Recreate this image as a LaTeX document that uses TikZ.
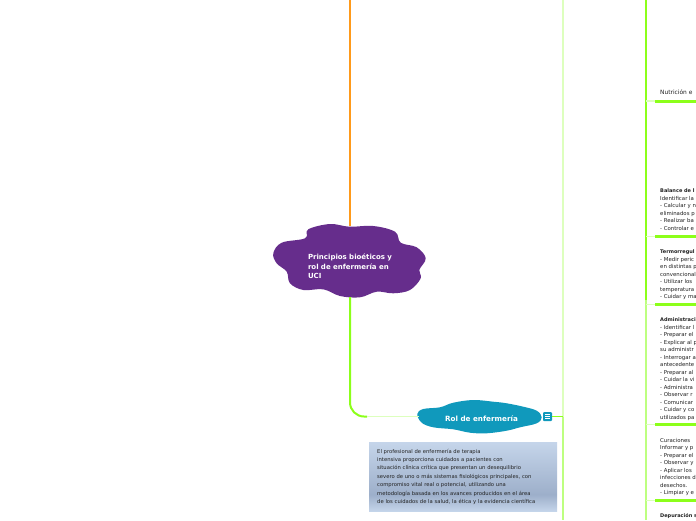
\documentclass[tikz,border=0pt]{standalone}
\usepackage{fontspec}
\setmainfont{DejaVu Sans}
\usetikzlibrary{calc}
\definecolor{morado}{HTML}{662D8C}
\definecolor{azul}{HTML}{1099BC}
\definecolor{naranja}{HTML}{FF9A1A}
\definecolor{verde}{HTML}{8CFF1A}
\definecolor{verdemedio}{HTML}{BDFF80}
\definecolor{verdeclaro}{HTML}{DDFFBE}
\definecolor{texto}{HTML}{222222}
\definecolor{notaclaro}{HTML}{C5D5EA}
\definecolor{notaoscuro}{HTML}{9DAFCA}
\pgfdeclareverticalshading{notafondo}{100bp}{color(0bp)=(notaclaro); color(25bp)=(notaclaro); color(37bp)=(notaoscuro); color(75bp)=(notaclaro); color(100bp)=(notaclaro)}
\newcommand{\titulo}[1]{{\bfseries\fontsize{5}{7.5}\selectfont #1}}
\tikzset{
  rama/.style={line width=3pt,verde},
  enlace/.style={line width=1.2pt,verdeclaro},
  tema/.style={anchor=north west,inner sep=0pt,align=left,text=texto,
    font=\fontsize{5.4}{7.5}\selectfont},
  nube/.style={inner sep=0pt,text=white,font=\bfseries\fontsize{7}{9.6}\selectfont},
}
\begin{document}
\begin{tikzpicture}[x=1pt,y=-1pt]
    \useasboundingbox (0,0) rectangle (696,520);
    \clip (0,0) rectangle (696,520);
    \fill[white] (0,0) rectangle (696,520);
    \coordinate (tronco) at (350,0);
    \coordinate (eje1) at (563,0);
    \coordinate (eje2) at (646,0);
    % nubes
    \fill[morado] plot[smooth cycle,tension=0.6] coordinates {(305,238.3) (308.3,229.3) (330,224) (349.3,226.7) (373.3,226)
      (395,231.7) (400.7,242.7) (416.7,247.3) (425.7,258.3) (419.3,270) (420.7,278.3) (410,290) (393.3,293.3)
      (376.7,291.7) (360,297.3) (340,296) (323.3,289.3) (303.3,290) (290,283.3) (286.7,271.7) (276.7,263.3)
      (273.3,253.3) (281.7,242.7)};
    \fill[azul] plot[smooth cycle,tension=0.6] coordinates {(417.3,414) (423.3,409) (440,407.3) (453.3,402.7) (473.3,400)
      (493.3,401.7) (506.7,403.3) (523.3,406.7) (536.7,410.7) (541.7,417.3) (536.7,423.3) (520,427.3) (506.7,430.7)
      (486.7,433.3) (470,432.7) (453.3,429.3) (433.3,427.3) (421.7,422.7)};
    \node[nube,minimum width=153pt,minimum height=71pt] (principios) at (350,261.5) {};
    \node[nube,text width=92pt,align=left] (principiostexto) at (354,266.5)
      {Principios bioéticos y\\rol de enfermería en\\UCI};
    \node[nube,font=\bfseries\fontsize{7.2}{8}\selectfont,minimum width=125pt,minimum height=33pt] (rol) at (481.5,418.5)
      {Rol de enfermería};
    \node[fill=azul,rounded corners=1pt,minimum size=9pt,inner sep=0pt] (nota) at (547.5,416.5) {};
    \draw[white,line width=0.7pt] ($(nota.center)+(-2.5,-2)$) -- ++(5,0) ++(-5,2) -- ++(5,0) ++(-5,2) -- ++(5,0);
    % conectores
    \draw[naranja,line width=2.8pt] (tronco) -- (tronco |- principios.north);
    \coordinate (codo) at (367,416.5);
    \draw[verde,line width=2pt,rounded corners=14pt] (tronco |- principios.south) -- (350,416.5) -- (codo);
    \draw[enlace] (codo) -- (rol.west |- codo);
    \draw[verdeclaro,line width=2.2pt] (eje1) -- (eje1 |- nota.east);
    \draw[verde,line width=1.6pt] (nota.east) -- (eje1 |- nota.east);
    \draw[verdemedio,line width=2.2pt] (eje1 |- nota.east) -- (563,520);
    \draw[verde,line width=2.2pt] (eje2) -- (646,300);
    \draw[verdemedio,line width=2.2pt] (646,300) -- (646,520);
    % temas
    \node[tema,font=\fontsize{5.9}{7.5}\selectfont] (nutricion) at (660,89.5) {Nutrición e};
    \draw[enlace] (646,101) -- (655,101);
    \draw[rama] (655,101) -- (696,101);
    \node[tema] (balance) at (660,188.5) {\titulo{Balance de l}\\Identificar la\\- Calcular y n\\eliminados p\\- Realizar ba\\- Controlar e};
    \draw[enlace] (646,236.5) -- (655,236.5);
    \draw[rama] (655,236.5) -- (696,236.5);
    \node[tema] (termo) at (660,249.5) {\titulo{Termorregul}\\- Medir peric\\en distintas p\\convencional\\- Utilizar los\\temperatura\\- Cuidar y ma};
    \draw[enlace] (646,304.5) -- (655,304.5);
    \draw[rama] (655,304.5) -- (696,304.5);
    \node[tema] (administracion) at (660,317.5) {\titulo{Administraci}\\- Identificar l\\- Preparar el\\- Explicar al p\\su administr\\- Interrogar a\\antecedente\\- Preparar al\\- Cuidar la vi\\- Administra\\- Observar r\\- Comunicar\\- Cuidar y co\\utilizados pa};
    \draw[enlace] (646,424.5) -- (655,424.5);
    \draw[rama] (655,424.5) -- (696,424.5);
    \node[tema] (curaciones) at (660,438) {Curaciones\\Informar y p\\- Preparar el\\- Observar y\\- Aplicar los\\infecciones d\\desechos.\\- Limpiar y e};
    \draw[enlace] (646,500.5) -- (655,500.5);
    \draw[rama] (655,500.5) -- (696,500.5);
    \node[tema] (depuracion) at (660,513) {\titulo{Depuración s}};
    % nota
    \node[anchor=north west,minimum width=188pt,minimum height=69pt,inner sep=0pt,shading=notafondo,
      text=texto,text width=172pt,align=left,inner xsep=8pt,font=\fontsize{5.25}{8.4}\selectfont] (descripcion) at (369,442)
      {El profesional de enfermería de terapia\\intensiva proporciona cuidados a pacientes con\\situación clínica crítica que presentan un desequilibrio\\severo de uno o más sistemas fisiológicos principales, con\\compromiso vital real o potencial, utilizando una\\metodología basada en los avances producidos en el área\\de los cuidados de la salud, la ética y la evidencia científica};
  \end{tikzpicture}
\end{document}
